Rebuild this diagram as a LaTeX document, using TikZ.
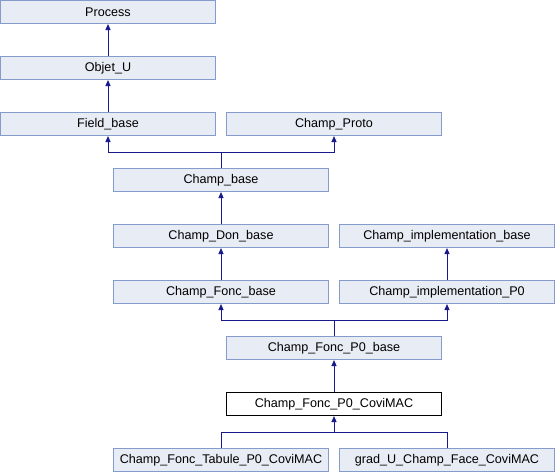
\documentclass[tikz,border=0pt]{standalone}
\usepackage{fontspec}
\setmainfont{Liberation Sans}
\usetikzlibrary{arrows.meta}
\definecolor{boxfill}{RGB}{232,236,244}
\definecolor{boxdraw}{RGB}{132,155,204}
\definecolor{edgecol}{RGB}{25,25,140}
\begin{document}
\begin{tikzpicture}[x=1pt,y=-1pt,
  cls/.style={draw=boxdraw,fill=boxfill,line width=1pt,minimum width=215pt,minimum height=23pt,inner sep=0pt,font=\fontsize{12.6}{14}\selectfont},
  cur/.style={cls,draw=black,fill=white},
  inh/.style={draw=edgecol,line width=1pt,-{Triangle[length=6pt,width=5pt]}},
  ln/.style={draw=edgecol,line width=1pt}]
\useasboundingbox (0,0) rectangle (555,472);
\node[cls] (process) at (108,12) {Process};
\node[cls] (objet) at (108,68) {Objet\_U};
\node[cls] (field) at (108,124) {Field\_base};
\node[cls] (proto) at (334,124) {Champ\_Proto};
\node[cls] (cbase) at (221,180) {Champ\_base};
\node[cls] (don) at (221,236) {Champ\_Don\_base};
\node[cls] (implb) at (447,236) {Champ\_implementation\_base};
\node[cls] (fonc) at (221,292) {Champ\_Fonc\_base};
\node[cls] (implp) at (447,292) {Champ\_implementation\_P0};
\node[cls] (p0base) at (334,348) {Champ\_Fonc\_P0\_base};
\node[cur] (covi) at (334,404) {Champ\_Fonc\_P0\_CoviMAC};
\node[cls] (tab) at (221,460) {Champ\_Fonc\_Tabule\_P0\_CoviMAC};
\node[cls] (grad) at (447,460) {grad\_U\_Champ\_Face\_CoviMAC};
\coordinate (j1) at (221,152);
\coordinate (j2) at (334,320);
\coordinate (j3) at (334,432);
\draw[inh] (objet) -- (process);
\draw[inh] (field) -- (objet);
\draw[ln] (cbase.north) -- (j1);
\draw[inh] (j1) -| (field.south);
\draw[inh] (j1) -| (proto.south);
\draw[inh] (don) -- (cbase);
\draw[inh] (fonc) -- (don);
\draw[inh] (implp) -- (implb);
\draw[ln] (p0base.north) -- (j2);
\draw[inh] (j2) -| (fonc.south);
\draw[inh] (j2) -| (implp.south);
\draw[inh] (covi) -- (p0base);
\draw[inh] (tab.north) |- (j3) -- (covi.south);
\draw[ln] (grad.north) |- (j3);
\end{tikzpicture}
\end{document}
